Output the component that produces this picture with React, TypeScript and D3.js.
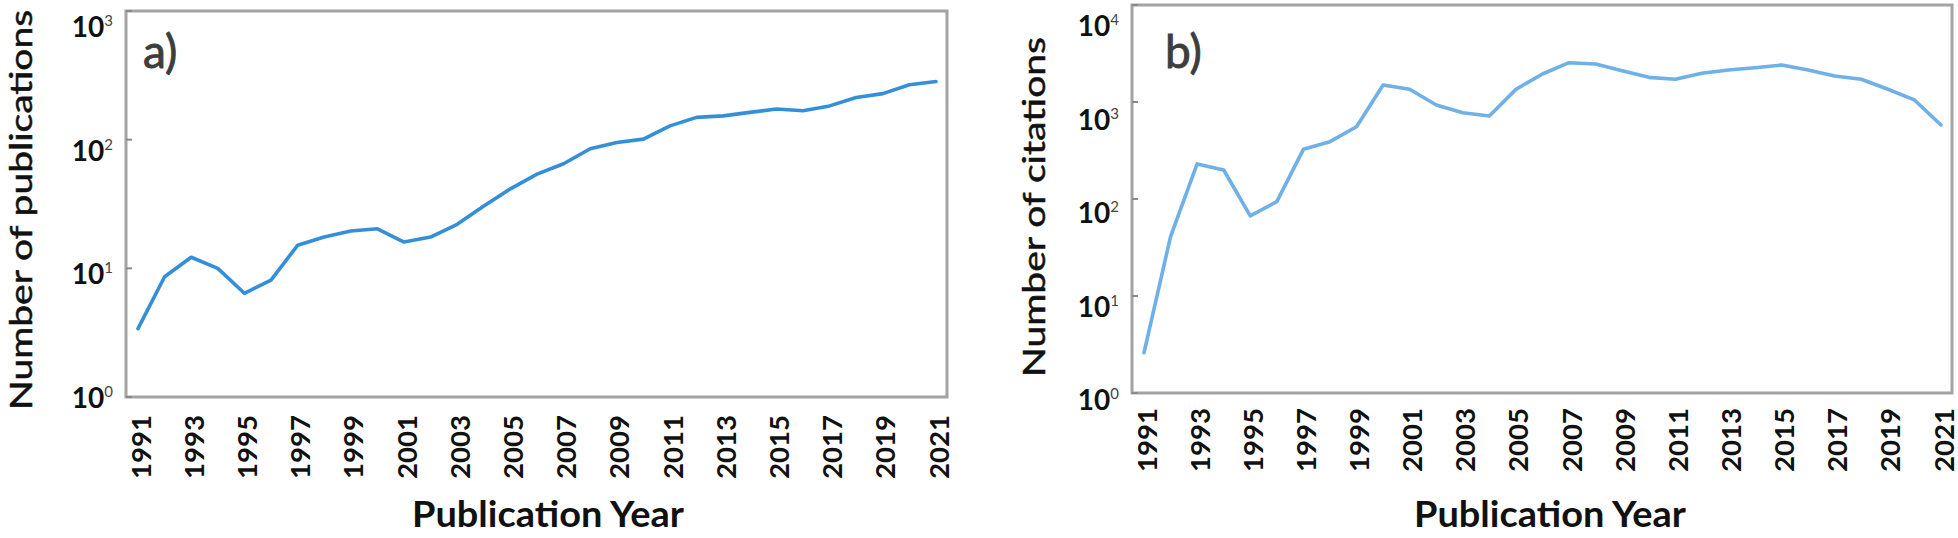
import * as d3 from 'd3';

const YEARS = [
  1991, 1992, 1993, 1994, 1995, 1996, 1997, 1998, 1999, 2000, 2001,
  2002, 2003, 2004, 2005, 2006, 2007, 2008, 2009, 2010, 2011, 2012,
  2013, 2014, 2015, 2016, 2017, 2018, 2019, 2020, 2021,
];
const PUBLICATIONS = [
  3.4, 8.6, 12.2, 10.0, 6.4, 8.1, 15.1, 17.5, 19.5, 20.3, 16.0,
  17.5, 22.0, 30.5, 41.5, 54, 65, 85, 95, 101, 128, 149,
  153, 163, 173, 168, 183, 213, 228, 267, 283,
];
const CITATIONS = [
  2.6, 41, 230, 199, 67, 94, 325, 390, 556, 1496, 1352,
  931, 776, 717, 1350, 1945, 2541, 2465, 2103, 1795, 1714, 1977,
  2138, 2259, 2405, 2138, 1853, 1714, 1352, 1050, 580,
];
const YEAR_TICKS = [
  1991, 1993, 1995, 1997, 1999, 2001, 2003, 2005, 2007, 2009, 2011,
  2013, 2015, 2017, 2019, 2021,
];
const PUB_DECADES = [0, 1, 2, 3];
const CIT_DECADES = [0, 1, 2, 3, 4];

const FONT = 'Lato, "Open Sans", sans-serif';

const PANELS = [
  {
    key: 'a', tag: 'a)', values: PUBLICATIONS, decades: PUB_DECADES,
    title: 'Number of publications', color: '#3390d8',
    left: 126, right: 947, top: 11, bottom: 397,
    titleX: 20, titleY: 210, titleLen: 400,
    lblTop: 27, lblBottom: 398, yearTop: 415, tagDx: 17,
    xlabX: 548,
  },
  {
    key: 'b', tag: 'b)', values: CITATIONS, decades: CIT_DECADES,
    title: 'Number of citations', color: '#6fb0e6',
    left: 1132, right: 1952, top: 5, bottom: 393,
    titleX: 1033, titleY: 207, titleLen: 340,
    lblTop: 26, lblBottom: 400, yearTop: 408, tagDx: 33,
    xlabX: 1550,
  },
];

function Panel({ p }) {
  const maxExp = p.decades[p.decades.length - 1];
  const x = d3.scaleLinear().domain([1991, 2021]).range([p.left + 12, p.right - 11]);
  const y = d3.scaleLog().domain([1, 10 ** maxExp]).range([p.bottom, p.top]);
  // tick labels sit a little off the ticks in the original figure
  const ly = d3.scaleLog().domain([1, 10 ** maxExp]).range([p.lblBottom, p.lblTop]);

  const line = d3.line<number>()
    .x((_, i) => x(YEARS[i]))
    .y(v => y(v));

  return (
    <g>
      {/* frame */}
      <rect x={p.left} y={p.top} width={p.right - p.left} height={p.bottom - p.top}
        fill="#fff" stroke="#a3a3a3" strokeWidth={3} />

      {/* y ticks */}
      {p.decades.map(e => (
        <line key={'t' + e} x1={p.left} x2={p.left + 6} y1={y(10 ** e)} y2={y(10 ** e)}
          stroke="#8a8a8a" strokeWidth={2} />
      ))}
      {p.decades.map(e => (
        <text key={'l' + e} x={p.left - 13} y={ly(10 ** e) + 10} textAnchor="end"
          fontFamily={FONT} fontWeight="bold" fontSize={28} fill="#111">
          10<tspan dy={-11} fontSize={15} fontWeight="normal" fill="#444">{e}</tspan>
        </text>
      ))}

      {/* series */}
      <path d={line(p.values) ?? ''} fill="none" stroke={p.color} strokeWidth={3.6}
        strokeLinejoin="round" strokeLinecap="round" />

      {/* panel tag */}
      <text x={p.left + p.tagDx} y={68} fontFamily={FONT} fontSize={46} fill="#3d3d3d"
        stroke="#3d3d3d" strokeWidth={0.9}>{p.tag}</text>

      {/* x tick labels */}
      {YEAR_TICKS.map(t => (
        <text key={t} transform={`translate(${x(t) + 2},${p.yearTop}) rotate(-90)`}
          textAnchor="end" dominantBaseline="central" fontFamily={FONT} fontWeight="bold"
          fontSize={27} fill="#111" textLength={64} lengthAdjust="spacingAndGlyphs">{t}</text>
      ))}

      {/* axis titles */}
      <text x={p.xlabX} y={527} textAnchor="middle" fontFamily={FONT} fontWeight="bold"
        fontSize={36} fill="#111" textLength={272} lengthAdjust="spacingAndGlyphs">Publication Year</text>
      <text transform={`translate(${p.titleX},${p.titleY}) rotate(-90)`} textAnchor="middle"
        dominantBaseline="central" fontFamily={FONT} fontSize={30} fill="#111"
        stroke="#111" strokeWidth={0.5}
        textLength={p.titleLen} lengthAdjust="spacingAndGlyphs">{p.title}</text>
    </g>
  );
}

export default function App() {
  return (
    <>
      <style>{'body{margin:0;background:#fff}'}</style>
      <svg width={1958} height={538} style={{ display: 'block' }}>
        <rect width={1958} height={538} fill="#fff" />
        {PANELS.map(p => <Panel key={p.key} p={p} />)}
      </svg>
    </>
  );
}
